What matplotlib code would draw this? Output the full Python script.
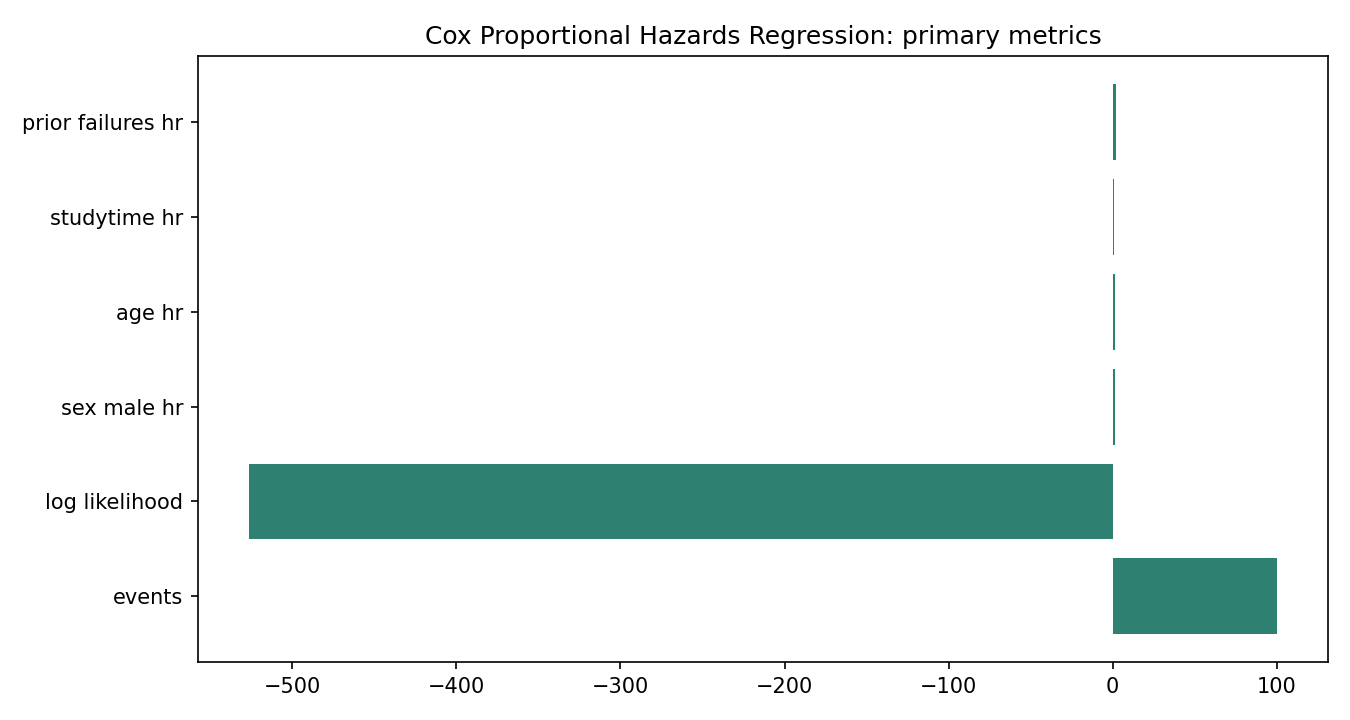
import matplotlib
matplotlib.use('Agg')
import matplotlib.pyplot as plt

# Metric names and values (bottom to top)
metrics = ['events', 'log likelihood', 'sex male hr', 'age hr', 'studytime hr', 'prior failures hr']
values = [100, -526.2, 1.35, 1.2, 0.85, 2.1]

fig, ax = plt.subplots(figsize=(9, 4.8), dpi=150)
ax.barh(metrics, values, color='#2e8070')
ax.set_title('Cox Proportional Hazards Regression: primary metrics', fontsize=12)

plt.subplots_adjust(left=0.1467, right=0.9837, top=0.922, bottom=0.0806)
plt.savefig('out.png')
